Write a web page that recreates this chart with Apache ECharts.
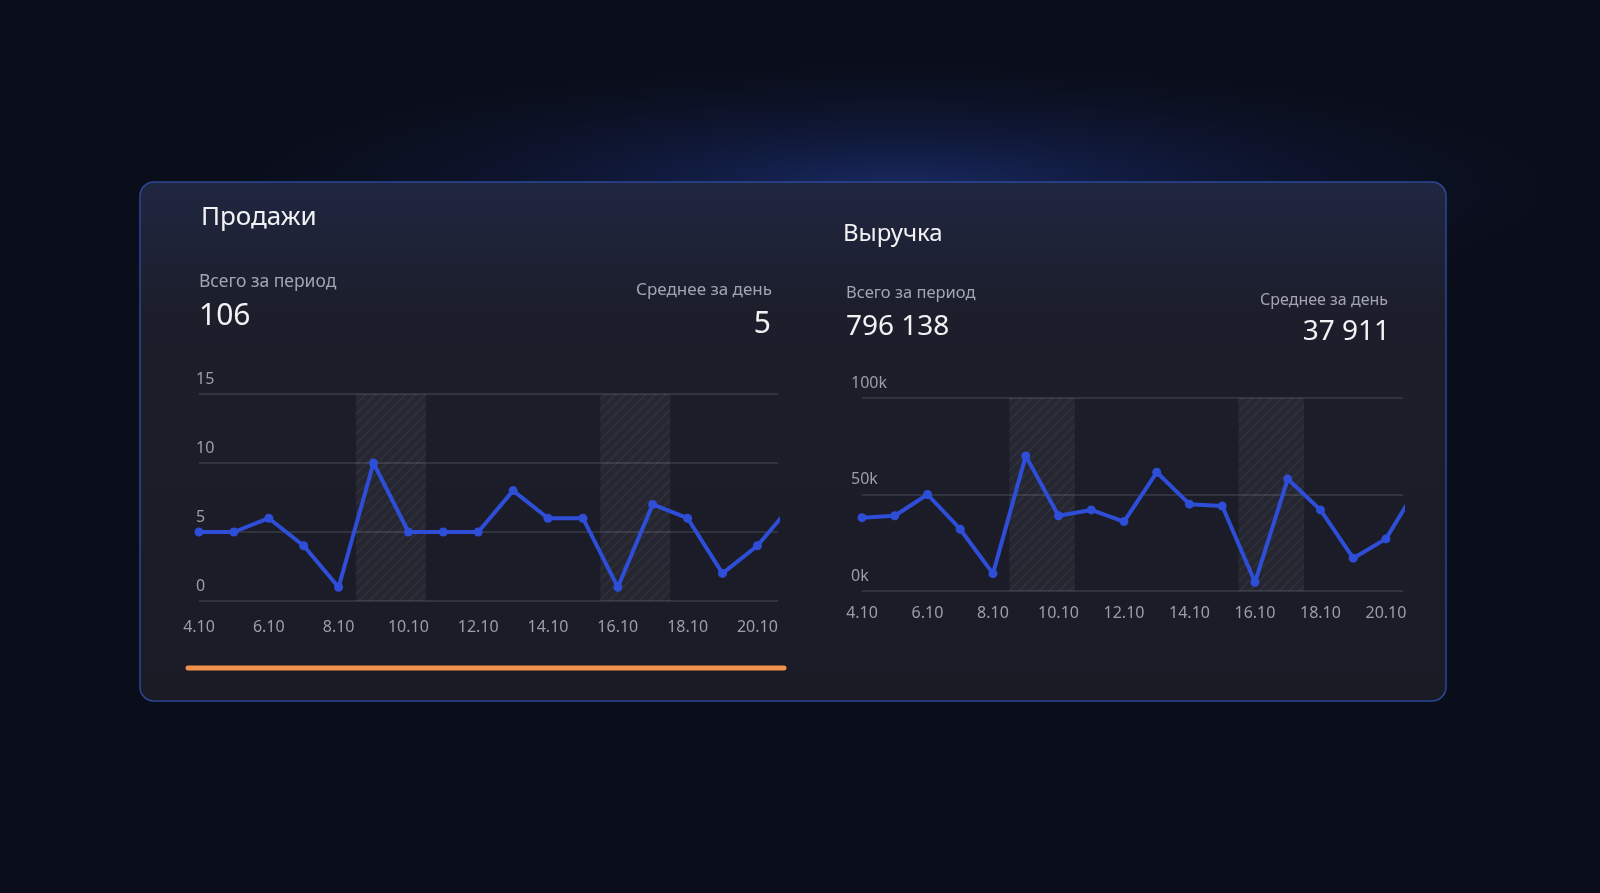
<!DOCTYPE html>
<html>
<head>
<meta charset="utf-8">
<script src="https://cdn.jsdelivr.net/npm/echarts@6/dist/echarts.min.js"></script>
<style>
html,body{margin:0;padding:0;background:#0a0e1b;overflow:hidden;}
#c{width:1600px;height:893px;}
</style>
</head>
<body>
<div id="c"></div>
<script>
// ---- data ----
const dates = ['4.10','5.10','6.10','7.10','8.10','9.10','10.10','11.10','12.10','13.10','14.10','15.10','16.10','17.10','18.10','19.10','20.10','21.10'];
const sales = [5, 5, 6, 4, 1, 10, 5, 5, 5, 8, 6, 6, 1, 7, 6, 2, 4, 7];
const revenue = [38000, 39000, 50000, 32000, 9000, 70000, 39000, 42000, 36000, 61500, 45000, 44000, 4500, 58000, 42000, 17000, 27000, 55000];
const salesTicks = [0, 5, 10, 15];
const revenueTicks = [0, 50000, 100000];
const weekends = [[9, 10], [16, 17]];
const salesTexts = ['Продажи', 'Всего за период', '106', 'Среднее за день', '5'];
const revenueTexts = ['Выручка', 'Всего за период', '796 138', 'Среднее за день', '37 911'];

// ---- helpers ----
const FONT = '"Noto Sans", "Open Sans", sans-serif';
const dayOf = d => parseInt(d, 10);
function labelFor(v) {
  const r = Math.round(v);
  if (Math.abs(v - r) > 1e-6 || r % 2 !== 0) return '';
  const d = dates.find(x => dayOf(x) === r);
  return d || '';
}
function hatch() {
  const c = document.createElement('canvas');
  c.width = 10; c.height = 10;
  const g = c.getContext('2d');
  g.fillStyle = 'rgba(255,255,255,0.045)';
  g.fillRect(0, 0, 10, 10);
  g.strokeStyle = 'rgba(255,255,255,0.045)';
  g.lineWidth = 2;
  g.beginPath();
  g.moveTo(0, 10); g.lineTo(10, 0);
  g.moveTo(-5, 5); g.lineTo(5, -5);
  g.moveTo(5, 15); g.lineTo(15, 5);
  g.stroke();
  return c;
}
const pattern = { image: hatch(), repeat: 'repeat' };
const LINE = '#2f4ed8';
const GRID_LINE = '#3a3c48';
const AXIS_TXT = '#9c9ea8';

function xAxisCfg(gridIndex, max, margin) {
  return {
    type: 'value', gridIndex, min: 4, max, interval: 2,
    axisLine: { show: false }, axisTick: { show: false }, splitLine: { show: false },
    axisLabel: { color: AXIS_TXT, fontFamily: FONT, fontSize: 16, margin,
      showMaxLabel: false, formatter: labelFor }
  };
}
function yAxisCfg(gridIndex, ticks, fmt, margin) {
  return {
    type: 'value', gridIndex, min: ticks[0], max: ticks[ticks.length - 1],
    interval: ticks[1] - ticks[0],
    axisLine: { show: false }, axisTick: { show: false },
    splitLine: { show: true, lineStyle: { color: GRID_LINE, width: 1.5 } },
    axisLabel: { color: AXIS_TXT, fontFamily: FONT, fontSize: 16, align: 'left',
      verticalAlign: 'bottom', margin, padding: [0, 0, 7, 0], formatter: fmt }
  };
}
function seriesCfg(idx, values) {
  return {
    type: 'line', xAxisIndex: idx, yAxisIndex: idx,
    data: dates.map((d, i) => [dayOf(d), values[i]]),
    symbol: 'circle', symbolSize: 9, showSymbol: true,
    lineStyle: { color: LINE, width: 4 },
    itemStyle: { color: LINE },
    clip: true, z: 5,
    markArea: {
      silent: true,
      itemStyle: { color: pattern },
      data: weekends.map(w => [{ xAxis: w[0] - 0.5 }, { xAxis: w[1] + 0.5 }])
    }
  };
}
function txt(x, y, text, size, color, align) {
  return { type: 'text', x, y, z: 10,
    style: { text, fill: color, font: size + 'px ' + FONT, align: align || 'left', verticalAlign: 'middle' } };
}

const chart = echarts.init(document.getElementById('c'), null, { renderer: 'canvas' });
chart.setOption({
  backgroundColor: '#0a0e1b',
  animation: false,
  graphic: [
    { type: 'circle', x: 900, y: 190, scaleX: 5.2, scaleY: 1, z: -30, silent: true,
      shape: { cx: 0, cy: 0, r: 130 },
      style: { fill: { type: 'radial', x: 0.5, y: 0.5, r: 0.5,
        colorStops: [{ offset: 0, color: 'rgba(40,70,170,0.5)' }, { offset: 0.5, color: 'rgba(30,52,135,0.22)' }, { offset: 1, color: 'rgba(20,30,80,0)' }] } } },
    { type: 'rect', z: -20, silent: true,
      shape: { x: 140, y: 182, width: 1306, height: 519, r: 14 },
      style: { fill: { type: 'linear', x: 0, y: 0, x2: 0, y2: 1,
        colorStops: [{ offset: 0, color: '#1f2640' }, { offset: 0.25, color: '#1c1e2b' }, { offset: 1, color: '#1a1b25' }] },
        stroke: '#2d4798', lineWidth: 1.5 } },
    { type: 'line', z: 10, silent: true,
      shape: { x1: 188, y1: 668, x2: 784, y2: 668 },
      style: { stroke: '#f0924b', lineWidth: 5, lineCap: 'round' } },
    txt(201, 218, salesTexts[0], 26, '#f2f2f4'),
    txt(199, 282, salesTexts[1], 17.5, '#a3a5b0'),
    txt(199, 316, salesTexts[2], 30, '#f2f2f4'),
    txt(772, 290, salesTexts[3], 17, '#a3a5b0', 'right'),
    txt(771, 324, salesTexts[4], 30, '#f2f2f4', 'right'),
    txt(843, 234, revenueTexts[0], 24, '#f2f2f4'),
    txt(846, 293, revenueTexts[1], 16.5, '#a3a5b0'),
    txt(846, 327, revenueTexts[2], 28, '#f2f2f4'),
    txt(1388, 300, revenueTexts[3], 16, '#a3a5b0', 'right'),
    txt(1390, 332, revenueTexts[4], 28, '#f2f2f4', 'right')
  ],
  grid: [
    { left: 199, top: 394, width: 579, height: 207 },
    { left: 862, top: 398, width: 541, height: 193 }
  ],
  xAxis: [xAxisCfg(0, 20.59, 18), xAxisCfg(1, 20.52, 14)],
  yAxis: [
    yAxisCfg(0, salesTicks, v => String(v), 3),
    yAxisCfg(1, revenueTicks, v => (v / 1000) + 'k', 11)
  ],
  series: [seriesCfg(0, sales), seriesCfg(1, revenue)]
});
</script>
</body>
</html>
